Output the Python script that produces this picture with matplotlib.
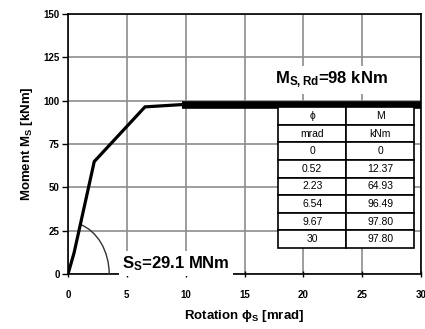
import matplotlib
matplotlib.use("Agg")
import matplotlib.pyplot as plt
from matplotlib.patches import Arc

plt.rcParams['font.family'] = ['Liberation Sans', 'DejaVu Sans']
plt.rcParams['mathtext.fontset'] = 'custom'
plt.rcParams['mathtext.rm'] = 'Liberation Sans:bold'
plt.rcParams['mathtext.it'] = 'Liberation Sans:bold'
plt.rcParams['mathtext.bf'] = 'Liberation Sans:bold'

# moment-rotation curve
phi = [0, 0.52, 2.23, 6.54, 9.67, 30]
M = [0, 12.37, 64.93, 96.49, 97.80, 97.80]
phi_txt = ['0', '0.52', '2.23', '6.54', '9.67', '30']
M_txt = ['0', '12.37', '64.93', '96.49', '97.80', '97.80']
x_ticks = [0, 5, 10, 15, 20, 25, 30]
y_ticks = [0, 25, 50, 75, 100, 125, 150]

fig = plt.figure(figsize=(4.25, 3.29), dpi=100)
ax = fig.add_axes([0.16, 0.167, 0.831, 0.79])
ax.set_xlim(0, 30)
ax.set_ylim(0, 150)
ax.set_xticks(x_ticks)
ax.set_yticks(y_ticks)
ax.grid(True, color='#8c8c8c', lw=1.2, zorder=0)
ax.tick_params(axis='y', direction='out', length=4, width=1, labelsize=7, pad=2)
ax.tick_params(axis='x', direction='inout', length=5, width=1, labelsize=7, pad=9)
for lab in ax.get_xticklabels() + ax.get_yticklabels():
    lab.set_fontweight('bold')
for s in ax.spines.values():
    s.set_linewidth(1.2)

ax.plot(phi[:5], M[:5], color='black', lw=2.3, zorder=4, solid_joinstyle='miter')
ax.plot(phi[4:], M[4:], color='black', lw=5.5, zorder=4, solid_capstyle='butt')

# stiffness arc
ax.add_patch(Arc((0, 0), 7.0, 60, theta1=0, theta2=88, color='#333333', lw=1.0, zorder=3))

ax.text(17.6, 112, 'M$_{S,Rd}$=98 kNm', fontsize=12, fontweight='bold',
        va='center', ha='left', zorder=5,
        bbox=dict(facecolor='white', edgecolor='none', pad=3))
ax.text(4.6, 6, 'S$_S$=29.1 MNm', fontsize=12, fontweight='bold',
        va='center', ha='left', zorder=5,
        bbox=dict(facecolor='white', edgecolor='none', pad=2))

ax.set_xlabel('Rotation ϕ$_S$ [mrad]', fontsize=9.5, fontweight='bold', labelpad=6)
ax.set_ylabel('Moment M$_S$ [kNm]', fontsize=9.5, fontweight='bold', labelpad=6)

rows = [['ϕ', 'M'], ['mrad', 'kNm']] + [[a, b] for a, b in zip(phi_txt, M_txt)]
tab = ax.table(cellText=rows, cellLoc='center', bbox=[0.595, 0.1, 0.385, 0.542], zorder=6)
tab.auto_set_font_size(False)
tab.set_fontsize(7.5)
for cell in tab.get_celld().values():
    cell.set_linewidth(1.2)
    cell.set_facecolor('white')

fig.savefig('out.png', dpi=100)
